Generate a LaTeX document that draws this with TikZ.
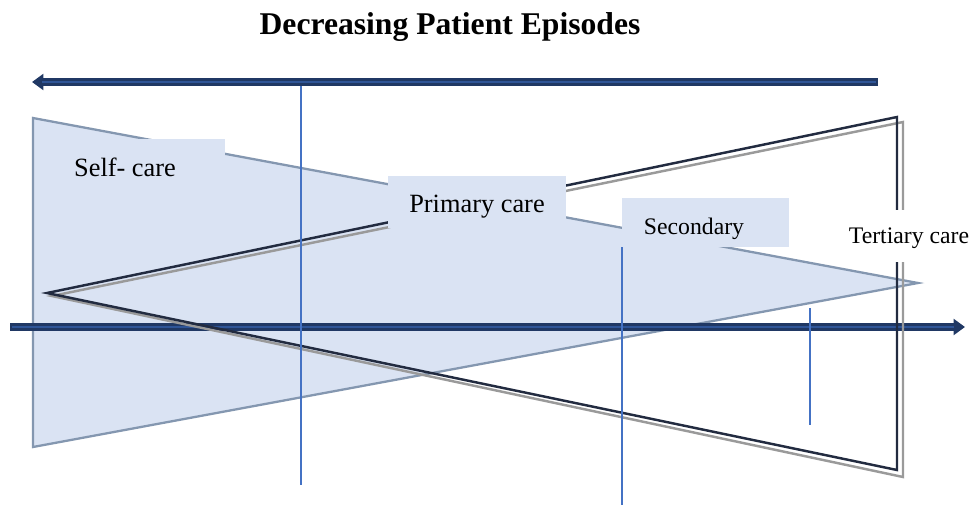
\documentclass[tikz,border=0pt]{standalone}
\usepackage{fontspec}
\setmainfont{Liberation Serif}
\usetikzlibrary{arrows.meta}

\definecolor{paleblue}{HTML}{DAE3F3}
\definecolor{edgeblue}{HTML}{8497B0}
\definecolor{darknavy}{HTML}{222B40}
\definecolor{shadowgray}{HTML}{9A9A9A}
\definecolor{arrownavy}{HTML}{203864}
\definecolor{arrowmid}{HTML}{2F5597}
\definecolor{thinblue}{HTML}{4472C4}

\tikzset{
  bigarrow/.style={line width=4pt,arrownavy,-{Triangle[length=6.5pt,width=9pt]}},
  bigarrowcore/.style={line width=1.6pt,arrowmid},
  vline/.style={thin,thinblue,line width=0.8pt},
  hourglass/.style={line width=1.4pt,line join=miter},
  bigtext/.style={font=\fontsize{15}{18}\selectfont},
  smalltext/.style={font=\fontsize{13.5}{16}\selectfont}
}

\begin{document}
\begin{tikzpicture}[x=0.2mm,y=-0.2mm]
        \useasboundingbox (0,0) rectangle (974,507);

        %title
        \node (title) at (450,27) {\fontsize{18}{22}\selectfont\bfseries Decreasing Patient Episodes};

        %triangle
        \filldraw[fill=paleblue,draw=edgeblue,line width=1.3pt] (33,118) -- (918,283) -- (33,447) -- cycle;

        %axis
        \draw[bigarrow] (10,327) -- (965,327);
        \draw[bigarrowcore] (12,327) -- (954,327);

        %hourglass lines
        \draw[hourglass,shadowgray] (52,296) -- (903,122) -- (903,477) -- cycle;
        \draw[hourglass,darknavy] (47,293) -- (897,117) -- (897,470) -- cycle;

        %labels
        \fill[paleblue] (60,139) rectangle (225,192);
        \node[bigtext] (self) at (125,167) {Self- care};
        \fill[paleblue] (388,176) rectangle (566,228);
        \node[bigtext] (primary) at (477,207) {Primary care};
        \fill[paleblue] (622,198) rectangle (789,247);
        \node[smalltext] (secondary) at (694,229) {Secondary};
        \fill[white] (838,210) rectangle (974,262);
        \node[smalltext] (tertiary) at (909,238) {Tertiary care};

        %markers
        \draw[vline] (301,82) -- (301,485);
        \draw[vline] (622,247) -- (622,505);
        \draw[vline] (810,308) -- (810,425);

        \draw[bigarrow] (878,82) -- (32,82);
        \draw[bigarrowcore] (876,82) -- (42,82);

\end{tikzpicture}
\end{document}
